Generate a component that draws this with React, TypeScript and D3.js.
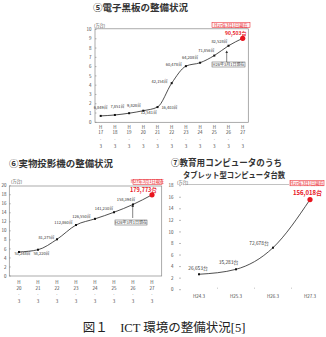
import { useEffect, useRef } from 'react';
import * as d3 from 'd3';

// ⑤ 電子黒板 (万台)
const boardYears = ['17', '18', '19', '20', '21', '22', '23', '24', '25', '26', '27'];
const boardValues = [0.69, 0.79, 0.98, 1.25, 1.64, 4.22, 6.05, 6.42, 7.19, 8.25, 9.05];
const boardLabels = ['6,849台', '7,851台', '9,828台', '12,541台', '16,403台', '42,154台', '60,478台', '64,208台', '71,856台', '82,528台', '90,503台'];
const boardTicks = [0, 1, 2, 3, 4, 5, 6, 7, 8, 9, 10];

// ⑥ 実物投影機 (万台)
const projYears = ['20', '21', '22', '23', '24', '25', '26', '27'];
const projValues = [5.32, 5.82, 8.13, 11.29, 12.66, 14.12, 15.84, 17.98];
const projLabels = ['53,248台', '58,220台', '81,275台', '112,860台', '126,550台', '141,230台', '158,394台', '179,773台'];
const projTicks = [0, 2, 4, 6, 8, 10, 12, 14, 16, 18, 20];

// ⑦ タブレット型コンピュータ (万台)
const tabletCats = ['H24.3', 'H25.3', 'H26.3', 'H27.3'];
const tabletValues = [2.67, 3.53, 7.27, 15.6];
const tabletLabels = ['26,653台', '35,283台', '72,678台', '156,018台'];
const tabletTicks = [0, 2, 4, 6, 8, 10, 12, 14, 16, 18];

// label offsets from their point (layout only)
const boardOffsets = [[0, -8], [2.6, -8], [5, -8], [5.5, 2], [12, 0], [-12, -2], [-12, -1.5], [-10, -5], [-8, -5], [-9, -4], [-7, -5]];
const projOffsets = [[3.5, 2], [3.5, 4], [-10.5, -2], [-12.5, -2], [-13.5, -2.5], [-10, -4], [-7, -5], [-8.5, -4.5]];
const tabletOffsets = [[-1, -6], [-7.5, -7], [-14, -4], [-2.5, -6.5]];

const JP = '"Noto Sans CJK JP", sans-serif';
const RED = '#e8141e';

export default function App() {
  const ref = useRef<SVGSVGElement>(null);

  useEffect(() => {
    if (!ref.current) return;
    const svg = d3.select(ref.current);
    svg.selectAll('*').remove();
    svg.append('rect').attr('width', 326).attr('height', 337).attr('fill', '#fff');

    const redBox = (x: number, y: number, w: number, h: number) => {
      svg.append('rect').attr('x', x).attr('y', y).attr('width', w).attr('height', h)
        .attr('fill', '#fff0f0').attr('stroke', RED).attr('stroke-width', 0.5);
      svg.append('text').attr('x', x + w / 2).attr('y', y + h / 2 + 1.5)
        .attr('text-anchor', 'middle').attr('font-family', JP).attr('font-size', 4.2)
        .attr('fill', RED).text('H27年3月1日現在');
    };

    const note = (x: number, y: number, w: number, ax: number, ay0: number, ay1: number) => {
      svg.append('rect').attr('x', x).attr('y', y).attr('width', w).attr('height', 5)
        .attr('fill', '#fff').attr('stroke', '#555').attr('stroke-width', 0.5);
      svg.append('text').attr('x', x + w / 2).attr('y', y + 3.8)
        .attr('text-anchor', 'middle').attr('font-family', JP).attr('font-size', 4)
        .attr('fill', '#333').text('H26年3月1日現在');
      svg.append('line').attr('x1', ax).attr('x2', ax).attr('y1', ay0).attr('y2', ay1 + 2)
        .attr('stroke', '#333').attr('stroke-width', 0.6);
      svg.append('path').attr('d', `M${ax - 1.3},${ay1 + 2.6}L${ax},${ay1}L${ax + 1.3},${ay1 + 2.6}Z`).attr('fill', '#333');
    };

    const series = (
      xs: number[], ys: number[], labels: string[], offs: number[][],
      fs: number, redFs: number, curve: d3.CurveFactory,
    ) => {
      const pts = xs.map((x, i) => [x, ys[i]] as [number, number]);
      svg.append('path').attr('d', d3.line().curve(curve)(pts) ?? '')
        .attr('fill', 'none').attr('stroke', '#222').attr('stroke-width', 0.8);
      pts.slice(0, -1).forEach(([x, y]) => {
        svg.append('rect').attr('x', x - 1).attr('y', y - 1).attr('width', 2).attr('height', 2).attr('fill', '#111');
      });
      const [lx, ly] = pts[pts.length - 1];
      svg.append('circle').attr('cx', lx).attr('cy', ly).attr('r', 2.6).attr('fill', RED);
      labels.forEach((t, i) => {
        const last = i === labels.length - 1;
        svg.append('text')
          .attr('x', pts[i][0] + offs[i][0]).attr('y', pts[i][1] + offs[i][1] + (last ? redFs : fs) * 0.36)
          .attr('text-anchor', 'middle').attr('font-family', JP)
          .attr('font-size', last ? redFs : fs).attr('font-weight', last ? 700 : 400)
          .attr('fill', last ? RED : '#333').text(t);
      });
    };

    const yTicks = (y: d3.ScaleLinear<number, number>, ticks: number[], lx: number, tx0: number, tx1: number) => {
      ticks.forEach(v => {
        svg.append('text').attr('x', lx).attr('y', y(v) + 1.6).attr('text-anchor', 'end')
          .attr('font-family', JP).attr('font-size', 4.5).attr('fill', '#444').text(v);
        svg.append('line').attr('x1', tx0).attr('x2', tx1).attr('y1', y(v)).attr('y2', y(v))
          .attr('stroke', '#777').attr('stroke-width', 0.5);
      });
    };

    const stackedX = (x: d3.ScalePoint<string>, cats: string[], rows: number[]) => {
      cats.forEach(c => {
        ['H', c, '.', '3'].forEach((t, k) => {
          svg.append('text').attr('x', x(c) ?? 0).attr('y', rows[k]).attr('text-anchor', 'middle')
            .attr('font-family', JP).attr('font-size', 4.5).attr('fill', '#444').text(t);
        });
      });
    };

    const title = (x: number, y: number, t: string, fs: number, len?: number) => {
      const el = svg.append('text').attr('x', x).attr('y', y).attr('font-family', JP)
        .attr('font-size', fs).attr('font-weight', 700).attr('fill', '#333').text(t);
      if (len) el.attr('textLength', len).attr('lengthAdjust', 'spacingAndGlyphs');
    };

    // ---- Chart ⑤ ----
    {
      const x = d3.scalePoint<string>().domain(boardYears).range([100.7, 242.7]);
      const y = d3.scaleLinear().domain([0, 10]).range([122.3, 29.5]);
      title(93, 10.5, '⑤電子黒板の整備状況', 9.5, 95);
      svg.append('rect').attr('x', 95).attr('y', 28.8).attr('width', 153.3).attr('height', 93.5)
        .attr('fill', 'none').attr('stroke', '#888').attr('stroke-width', 0.7);
      yTicks(y, boardTicks, 91.5, 95, 96.5);
      svg.append('text').attr('x', 94).attr('y', 26.5).attr('font-family', JP).attr('font-size', 4.2)
        .attr('fill', '#444').text('(万台)');
      redBox(212, 22.5, 38, 5.2);
      note(212, 62, 33, 226.7, 62, 50.5);
      series(boardYears.map(c => x(c) ?? 0), boardValues.map(v => y(v)), boardLabels, boardOffsets, 4, 5, d3.curveMonotoneX);
      stackedX(x, boardYears, [129, 134, 139.5, 147.5]);
    }

    // ---- Chart ⑥ ----
    {
      const x = d3.scalePoint<string>().domain(projYears).range([19, 152]);
      const y = d3.scaleLinear().domain([0, 20]).range([276, 185.7]);
      title(9, 166.5, '⑥実物投影機の整備状況', 9.5, 104);
      svg.append('rect').attr('x', 9.3).attr('y', 186).attr('width', 152.4).attr('height', 90)
        .attr('fill', 'none').attr('stroke', '#888').attr('stroke-width', 0.7);
      yTicks(y, projTicks, 6.5, 9.3, 10.8);
      svg.append('text').attr('x', 11).attr('y', 183).attr('font-family', JP).attr('font-size', 4.2)
        .attr('fill', '#444').text('(万台)');
      redBox(133, 179.3, 29, 5);
      note(115, 220, 32, 132.7, 218, 204.5);
      series(projYears.map(c => x(c) ?? 0), projValues.map(v => y(v)), projLabels, projOffsets, 4, 5.5, d3.curveMonotoneX);
      stackedX(x, projYears, [284, 289.5, 295, 302.5]);
    }

    // ---- Chart ⑦ ----
    {
      const x = d3.scalePoint<string>().domain(tabletCats).range([199, 310]);
      const y = d3.scaleLinear().domain([0, 18]).range([289.7, 185.7]);
      title(171, 166, '⑦教育用コンピュータのうち', 9, 111);
      title(183, 177.5, 'タブレット型コンピュータ台数', 8, 102);
      svg.append('line').attr('x1', 186).attr('x2', 289).attr('y1', 184.5).attr('y2', 184.5)
        .attr('stroke', '#999').attr('stroke-width', 0.6);
      yTicks(y, tabletTicks, 173.5, 179, 181);
      svg.append('text').attr('x', 177).attr('y', 183.5).attr('font-family', JP).attr('font-size', 4.2)
        .attr('fill', '#444').text('(万台)');
      redBox(290, 180.3, 34, 5.5);
      // small category separators on the bottom
      [217.5, 254.5, 291.5].forEach(sx => {
        svg.append('line').attr('x1', sx).attr('x2', sx).attr('y1', 287.5).attr('y2', 289)
          .attr('stroke', '#aaa').attr('stroke-width', 0.5);
      });
      series(tabletCats.map(c => x(c) ?? 0), tabletValues.map(v => y(v)), tabletLabels, tabletOffsets, 4.8, 6, d3.curveMonotoneX);
      tabletCats.forEach(c => {
        svg.append('text').attr('x', x(c) ?? 0).attr('y', 297.5).attr('text-anchor', 'middle')
          .attr('font-family', JP).attr('font-size', 4.5).attr('fill', '#444').text(c);
      });
    }

    // caption
    svg.append('text').attr('x', 164).attr('y', 332).attr('text-anchor', 'middle')
      .attr('font-family', '"Liberation Serif", "Noto Sans CJK JP", serif').attr('font-size', 12.5)
      .attr('fill', '#222').text('図１　ICT 環境の整備状況[5]');
  }, []);

  return (
    <svg ref={ref} width={326} height={337} style={{ position: 'absolute', left: 0, top: 0 }} />
  );
}
